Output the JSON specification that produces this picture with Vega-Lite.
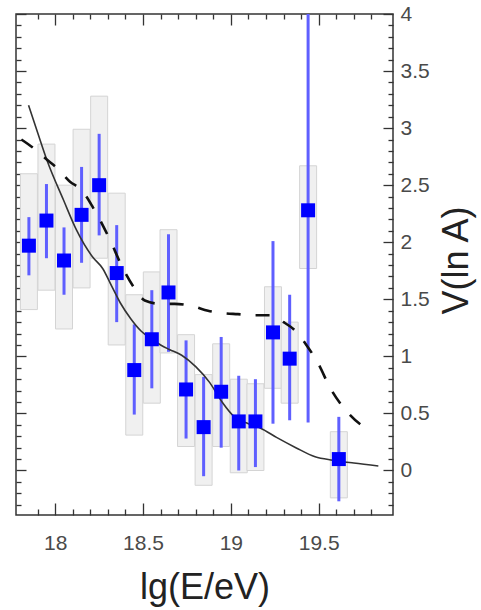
{
  "$schema": "https://vega.github.io/schema/vega-lite/v6.json",
  "width": 377,
  "height": 501,
  "autosize": {"type": "none"},
  "padding": {"left": 16, "top": 14, "right": 88, "bottom": 95},
  "background": "white",
  "config": {
    "view": {"stroke": "#333333", "strokeWidth": 1.5},
    "font": "Liberation Sans",
    "axis": {"grid": false, "domain": false, "labelOverlap": false, "labelFlush": false, "labelBound": false, "tickColor": "#333333", "tickWidth": 1.3}
  },
  "datasets": {
    "points": [
      {"e": 17.85, "v": 1.97, "lo": 1.71, "hi": 2.22, "slo": 1.41, "shi": 2.60},
      {"e": 17.95, "v": 2.19, "lo": 1.86, "hi": 2.51, "slo": 1.58, "shi": 2.86},
      {"e": 18.05, "v": 1.84, "lo": 1.54, "hi": 2.13, "slo": 1.24, "shi": 2.50},
      {"e": 18.15, "v": 2.24, "lo": 1.82, "hi": 2.66, "slo": 1.60, "shi": 2.99},
      {"e": 18.25, "v": 2.50, "lo": 2.06, "hi": 2.95, "slo": 1.86, "shi": 3.28},
      {"e": 18.35, "v": 1.73, "lo": 1.30, "hi": 2.15, "slo": 1.10, "shi": 2.43},
      {"e": 18.45, "v": 0.88, "lo": 0.49, "hi": 1.28, "slo": 0.31, "shi": 1.54},
      {"e": 18.55, "v": 1.15, "lo": 0.72, "hi": 1.58, "slo": 0.59, "shi": 1.74},
      {"e": 18.645, "v": 1.56, "lo": 1.04, "hi": 2.07, "slo": 1.03, "shi": 2.11},
      {"e": 18.745, "v": 0.71, "lo": 0.28, "hi": 1.14, "slo": 0.21, "shi": 1.19},
      {"e": 18.845, "v": 0.38, "lo": -0.05, "hi": 0.82, "slo": -0.13, "shi": 0.84},
      {"e": 18.945, "v": 0.69, "lo": 0.20, "hi": 1.17, "slo": 0.21, "shi": 1.11},
      {"e": 19.045, "v": 0.43, "lo": 0.00, "hi": 0.83, "slo": -0.02, "shi": 0.80},
      {"e": 19.14, "v": 0.43, "lo": 0.03, "hi": 0.80, "slo": 0.00, "shi": 0.76},
      {"e": 19.24, "v": 1.21, "lo": 0.41, "hi": 2.01, "slo": 0.72, "shi": 1.61},
      {"e": 19.335, "v": 0.98, "lo": 0.44, "hi": 1.54, "slo": 0.59, "shi": 1.30},
      {"e": 19.44, "v": 2.28, "lo": 0.42, "hi": 4.0, "slo": 1.77, "shi": 2.67},
      {"e": 19.615, "v": 0.10, "lo": -0.27, "hi": 0.47, "slo": -0.24, "shi": 0.34}
    ],
    "solid": [
      {"e": 17.848, "v": 3.20}, {"e": 17.90, "v": 2.96}, {"e": 17.955, "v": 2.71},
      {"e": 18.047, "v": 2.37}, {"e": 18.12, "v": 2.11}, {"e": 18.213, "v": 1.87},
      {"e": 18.27, "v": 1.77}, {"e": 18.32, "v": 1.62}, {"e": 18.37, "v": 1.47},
      {"e": 18.43, "v": 1.33}, {"e": 18.49, "v": 1.22}, {"e": 18.55, "v": 1.15},
      {"e": 18.60, "v": 1.10}, {"e": 18.65, "v": 1.06}, {"e": 18.72, "v": 1.01},
      {"e": 18.80, "v": 0.91}, {"e": 18.88, "v": 0.77}, {"e": 18.95, "v": 0.60},
      {"e": 19.02, "v": 0.47}, {"e": 19.10, "v": 0.41}, {"e": 19.17, "v": 0.37},
      {"e": 19.26, "v": 0.29}, {"e": 19.37, "v": 0.20}, {"e": 19.48, "v": 0.12},
      {"e": 19.58, "v": 0.09}, {"e": 19.70, "v": 0.065}, {"e": 19.84, "v": 0.04}
    ],
    "dashed": [
      {"e": 17.807, "v": 2.90}, {"e": 17.88, "v": 2.82}, {"e": 17.955, "v": 2.72},
      {"e": 18.01, "v": 2.65}, {"e": 18.084, "v": 2.53}, {"e": 18.148, "v": 2.46},
      {"e": 18.213, "v": 2.31}, {"e": 18.27, "v": 2.15}, {"e": 18.324, "v": 1.98},
      {"e": 18.37, "v": 1.82}, {"e": 18.45, "v": 1.60}, {"e": 18.51, "v": 1.49},
      {"e": 18.60, "v": 1.46}, {"e": 18.68, "v": 1.46}, {"e": 18.78, "v": 1.44},
      {"e": 18.87, "v": 1.40}, {"e": 18.95, "v": 1.38}, {"e": 19.04, "v": 1.37},
      {"e": 19.14, "v": 1.36}, {"e": 19.22, "v": 1.36}, {"e": 19.30, "v": 1.30},
      {"e": 19.37, "v": 1.22}, {"e": 19.43, "v": 1.10}, {"e": 19.50, "v": 0.93},
      {"e": 19.56, "v": 0.74}, {"e": 19.67, "v": 0.50}, {"e": 19.80, "v": 0.34}
    ]
  },
  "resolve": {"axis": {"x": "independent", "y": "independent"}},
  "layer": [
    {
      "data": {"name": "points"},
      "mark": {"type": "bar", "width": 17, "fill": "#f0f0f0", "stroke": "#d4d4d4", "strokeWidth": 1, "clip": true},
      "encoding": {
        "x": {"field": "e", "type": "quantitative",
          "scale": {"domain": [17.805, 19.895], "nice": false, "zero": false},
          "axis": {"orient": "top", "labels": false, "title": null,
            "values": [17.9, 18, 18.1, 18.2, 18.3, 18.4, 18.5, 18.6, 18.7, 18.8, 18.9, 19, 19.1, 19.2, 19.3, 19.4, 19.5, 19.6, 19.7, 19.8],
            "tickSize": {"condition": {"test": "abs(datum.value*2 - round(datum.value*2)) < 0.001", "value": -11}, "value": -5}}},
        "y": {"field": "slo", "type": "quantitative",
          "scale": {"domain": [-0.39, 4], "nice": false, "zero": false},
          "axis": {"orient": "left", "labels": false, "title": null,
            "values": [-0.3, -0.2, -0.1, 0, 0.1, 0.2, 0.3, 0.4, 0.5, 0.6, 0.7, 0.8, 0.9, 1, 1.1, 1.2, 1.3, 1.4, 1.5, 1.6, 1.7, 1.8, 1.9, 2, 2.1, 2.2, 2.3, 2.4, 2.5, 2.6, 2.7, 2.8, 2.9, 3, 3.1, 3.2, 3.3, 3.4, 3.5, 3.6, 3.7, 3.8, 3.9, 4],
            "tickSize": {"condition": {"test": "abs(datum.value*2 - round(datum.value*2)) < 0.001", "value": -10}, "value": -5}}},
        "y2": {"field": "shi"}
      }
    },
    {
      "data": {"name": "points"},
      "mark": {"type": "rule", "stroke": "#5f5fff", "strokeWidth": 3, "clip": true},
      "encoding": {
        "x": {"field": "e", "type": "quantitative",
          "scale": {"domain": [17.805, 19.895], "nice": false, "zero": false},
          "axis": {"orient": "bottom", "title": "lg(E/eV)",
            "values": [17.9, 18, 18.1, 18.2, 18.3, 18.4, 18.5, 18.6, 18.7, 18.8, 18.9, 19, 19.1, 19.2, 19.3, 19.4, 19.5, 19.6, 19.7, 19.8],
            "labelExpr": "abs(datum.value*2 - round(datum.value*2)) < 0.001 ? format(datum.value, '.1~f') : ''",
            "tickSize": {"condition": {"test": "abs(datum.value*2 - round(datum.value*2)) < 0.001", "value": -12}, "value": -6},
            "labelFontSize": 21, "labelColor": "#4a4a4a", "labelPadding": 29,
            "titleFontSize": 36, "titleFontWeight": "normal", "titleColor": "#222222", "titlePadding": 11}},
        "y": {"field": "lo", "type": "quantitative",
          "scale": {"domain": [-0.39, 4], "nice": false, "zero": false},
          "axis": {"orient": "right", "title": "V(ln A)",
            "values": [-0.3, -0.2, -0.1, 0, 0.1, 0.2, 0.3, 0.4, 0.5, 0.6, 0.7, 0.8, 0.9, 1, 1.1, 1.2, 1.3, 1.4, 1.5, 1.6, 1.7, 1.8, 1.9, 2, 2.1, 2.2, 2.3, 2.4, 2.5, 2.6, 2.7, 2.8, 2.9, 3, 3.1, 3.2, 3.3, 3.4, 3.5, 3.6, 3.7, 3.8, 3.9, 4],
            "labelExpr": "abs(datum.value*2 - round(datum.value*2)) < 0.001 ? format(datum.value, '.1~f') : ''",
            "tickSize": {"condition": {"test": "abs(datum.value*2 - round(datum.value*2)) < 0.001", "value": -10}, "value": -5},
            "labelFontSize": 21, "labelColor": "#4a4a4a", "labelPadding": 17, "labelBaseline": "middle",
            "titleFontSize": 36, "titleFontWeight": "normal", "titleColor": "#222222",
            "titleAngle": 270, "titleX": 63, "titleY": 246, "titleAlign": "center", "titleBaseline": "middle"}},
        "y2": {"field": "hi"}
      }
    },
    {
      "data": {"name": "solid"},
      "mark": {"type": "line", "stroke": "#333333", "strokeWidth": 1.6, "interpolate": "monotone", "clip": true},
      "encoding": {
        "x": {"field": "e", "type": "quantitative", "scale": {"domain": [17.805, 19.895], "nice": false, "zero": false}, "axis": null},
        "y": {"field": "v", "type": "quantitative", "scale": {"domain": [-0.39, 4], "nice": false, "zero": false}, "axis": null}
      }
    },
    {
      "data": {"name": "dashed"},
      "mark": {"type": "line", "stroke": "#111111", "strokeWidth": 2.6, "strokeDash": [14, 15], "interpolate": "monotone", "clip": true},
      "encoding": {
        "x": {"field": "e", "type": "quantitative", "scale": {"domain": [17.805, 19.895], "nice": false, "zero": false}, "axis": null},
        "y": {"field": "v", "type": "quantitative", "scale": {"domain": [-0.39, 4], "nice": false, "zero": false}, "axis": null}
      }
    },
    {
      "data": {"name": "points"},
      "mark": {"type": "square", "fill": "#0000ff", "opacity": 1, "size": 196, "clip": true},
      "encoding": {
        "x": {"field": "e", "type": "quantitative", "scale": {"domain": [17.805, 19.895], "nice": false, "zero": false}, "axis": null},
        "y": {"field": "v", "type": "quantitative", "scale": {"domain": [-0.39, 4], "nice": false, "zero": false}, "axis": null}
      }
    }
  ]
}
